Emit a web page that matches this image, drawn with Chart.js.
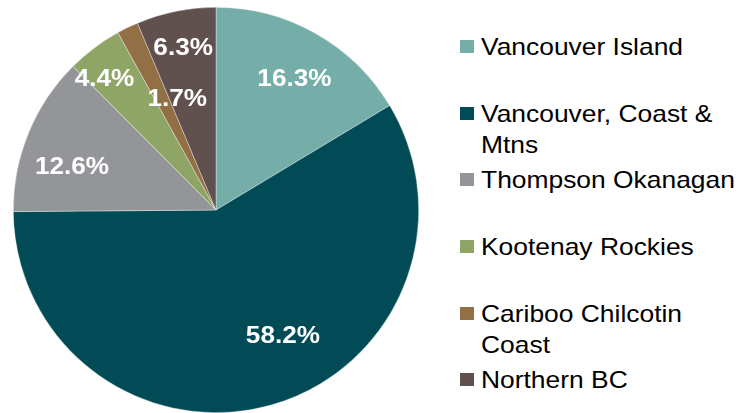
<!DOCTYPE html>
<html>
<head>
<meta charset="utf-8">
<script src="https://cdn.jsdelivr.net/npm/chart.js@4"></script>
<style>
  html, body { margin: 0; padding: 0; background: #fff; overflow: hidden; }
  body { width: 752px; height: 413px; position: relative; font-family: "Liberation Sans", Arial, sans-serif; }
  #wrap { position: absolute; left: 0; top: 0; width: 432px; height: 420px; }
  #legend { position: absolute; left: 460px; top: 31px; }
  .item { position: relative; height: 66.7px; }
  .sw { position: absolute; left: 0; top: 9px; width: 14px; height: 13px; }
  .tx { position: absolute; left: 21px; top: 0; width: 240px; font-size: 24px; line-height: 31px; color: #000;
        transform: scaleX(1.1); transform-origin: left top; white-space: normal; }
</style>
</head>
<body>
<div id="wrap"><canvas id="c" width="432" height="420" style="width:432px;height:420px"></canvas></div>
<div id="legend"></div>
<script>
const categories = ["Vancouver Island", "Vancouver, Coast & Mtns", "Thompson Okanagan", "Kootenay Rockies", "Cariboo Chilcotin Coast", "Northern BC"];
const values = [16.3, 58.2, 12.6, 4.4, 1.7, 6.3];
const colors = ["#75ADA9", "#004B55", "#939598", "#8EA566", "#926F45", "#60504E"];
// label placement relative to each slice: angle shift from the slice middle (degrees) and fraction of radius
const labelAngleShift = [1.4, -12.4, -5.6, -3.4, 6.8, 0];
const labelRadiusFrac = [0.754, 0.70, 0.742, 0.85, 0.585, 0.82];

const labelPlugin = {
  id: 'sliceLabels',
  afterDatasetsDraw(chart) {
    const ctx = chart.ctx;
    const meta = chart.getDatasetMeta(0);
    ctx.save();
    ctx.fillStyle = '#fff';
    ctx.font = 'bold 24px "Liberation Sans", Arial, sans-serif';
    ctx.textAlign = 'center';
    ctx.textBaseline = 'middle';
    meta.data.forEach((arc, i) => {
      const p = arc.getProps(['x', 'y', 'startAngle', 'endAngle', 'outerRadius'], true);
      const mid = (p.startAngle + p.endAngle) / 2 + labelAngleShift[i] * Math.PI / 180;
      const r = p.outerRadius * labelRadiusFrac[i];
      const x = p.x + Math.cos(mid) * r;
      const y = p.y + Math.sin(mid) * r;
      ctx.save();
      ctx.translate(x, y + 1);
      ctx.scale(1.09, 1);
      ctx.fillText(values[i].toFixed(1) + '%', 0, 0);
      ctx.restore();
    });
    ctx.restore();
  }
};

new Chart(document.getElementById('c'), {
  type: 'pie',
  data: {
    labels: categories,
    datasets: [{
      data: values,
      backgroundColor: colors,
      borderColor: 'rgba(255,255,255,0.6)',
      borderWidth: 0.6
    }]
  },
  options: {
    responsive: false,
    animation: false,
    layout: { padding: { left: 13, top: 7, right: 13, bottom: 7 } },
    plugins: { legend: { display: false }, tooltip: { enabled: false } }
  },
  plugins: [labelPlugin]
});

const lg = document.getElementById('legend');
categories.forEach((name, i) => {
  const it = document.createElement('div');
  it.className = 'item';
  const sw = document.createElement('div');
  sw.className = 'sw';
  sw.style.background = colors[i];
  const tx = document.createElement('div');
  tx.className = 'tx';
  tx.textContent = name;
  it.appendChild(sw);
  it.appendChild(tx);
  lg.appendChild(it);
});
</script>
</body>
</html>
